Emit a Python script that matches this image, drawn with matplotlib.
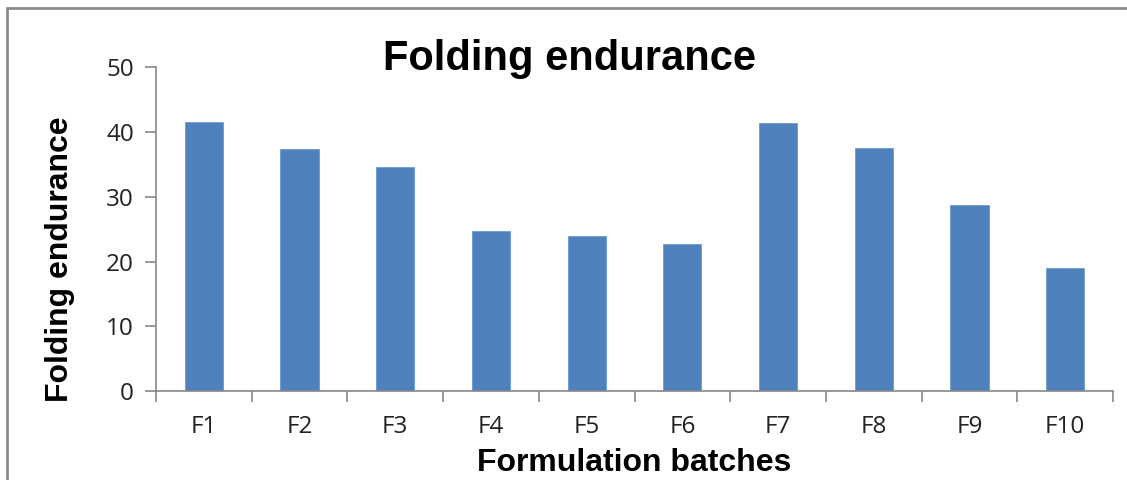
import matplotlib.pyplot as plt
import numpy as np
from matplotlib.patches import Rectangle

plt.rcParams['font.family'] = ['Open Sans', 'DejaVu Sans']

batches = ['F1', 'F2', 'F3', 'F4', 'F5', 'F6', 'F7', 'F8', 'F9', 'F10']
endurance = [41.5, 37.4, 34.6, 24.7, 24.0, 22.7, 41.4, 37.6, 28.7, 19.0]

fig = plt.figure(figsize=(11.27, 4.8), dpi=100)
ax = fig.add_axes([0.1384, 0.1854, 0.8492, 0.6744])

x = np.arange(len(batches))
ax.bar(x, endurance, width=0.4, color='#4F81BD', edgecolor='#6F9AD0', linewidth=0.6, zorder=2)

ax.set_xlim(-0.5, len(batches) - 0.5)
ax.set_ylim(0, 50)
ax.set_yticks([0, 10, 20, 30, 40, 50])

# category labels in the middle, tick marks on the boundaries
ax.set_xticks(x)
ax.set_xticklabels(batches)
ax.tick_params(axis='x', length=0, pad=17, labelsize=17.5, labelcolor='#222222')
ax.set_xticks(np.arange(-0.5, len(batches), 1), minor=True)
ax.tick_params(axis='x', which='minor', length=8, color='#878787', width=1.2)
ax.tick_params(axis='y', length=8, color='#878787', width=1.2, labelsize=17.5,
               labelcolor='#222222', pad=8)

for s in ['top', 'right']:
    ax.spines[s].set_visible(False)
for s in ['left', 'bottom']:
    ax.spines[s].set_color('#878787')
    ax.spines[s].set_linewidth(1.2)

ax.set_xlabel('Formulation batches', fontsize=23, fontweight='bold', family='Liberation Sans', labelpad=7)
ax.set_ylabel('Folding endurance', fontsize=23, fontweight='bold', family='Liberation Sans')
ax.yaxis.set_label_coords(-0.085, 0.408)
fig.text(0.505, 0.878, 'Folding endurance', fontsize=30, fontweight='bold',
         family='Liberation Sans', ha='center', va='center')

# outer chart frame
fig.patches.append(Rectangle((7 / 1127, -0.1), 1.2, 1.1 - 8 / 480, transform=fig.transFigure,
                             fill=False, edgecolor='#8c8c8c', linewidth=2))

plt.savefig('out.png', dpi=100)
